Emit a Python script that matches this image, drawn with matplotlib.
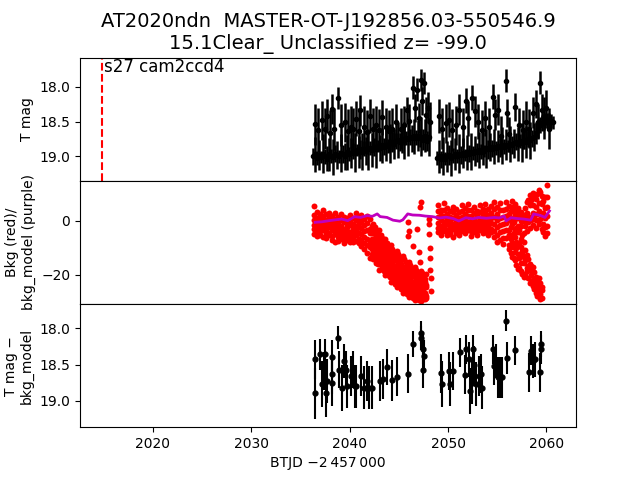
import numpy as np
import matplotlib
matplotlib.use("Agg")
import matplotlib.pyplot as plt

# Light curve: quiescent points (two TESS orbits)
lc_t = [2036.3, 2036.5, 2036.7, 2036.9, 2037.1, 2037.3, 2037.5, 2037.7, 2037.9, 2038.1,
        2038.3, 2038.5, 2038.7, 2038.9, 2039.1, 2039.3, 2039.5, 2039.7, 2039.9, 2040.1,
        2040.3, 2040.5, 2040.7, 2040.9, 2041.1, 2041.3, 2041.5, 2041.7, 2041.9, 2042.1,
        2042.3, 2042.5, 2042.7, 2042.9, 2043.1, 2043.3, 2043.5, 2043.7, 2043.9, 2044.1,
        2044.3, 2044.5, 2044.7, 2044.9, 2045.1, 2045.3, 2045.5, 2045.7, 2045.9, 2046.1,
        2046.3, 2046.5, 2046.7, 2046.9, 2047.1, 2047.3, 2047.5, 2047.7, 2047.9, 2048.1,
        2048.9, 2049.1, 2049.3, 2049.5, 2049.7, 2049.9, 2050.1, 2050.3, 2050.5, 2050.7,
        2050.9, 2051.1, 2051.3, 2051.5, 2051.7, 2051.9, 2052.1, 2052.3, 2052.5, 2052.7,
        2052.9, 2053.1, 2053.3, 2053.5, 2053.7, 2053.9, 2054.1, 2054.3, 2054.5, 2054.7,
        2054.9, 2055.1, 2055.3, 2055.5, 2055.7, 2055.9, 2056.1, 2056.3, 2056.5, 2056.7,
        2056.9, 2057.1, 2057.3, 2057.5, 2057.7, 2057.9, 2058.1, 2058.3, 2058.5, 2058.7,
        2058.9, 2059.1, 2059.3, 2059.5, 2059.7, 2059.9, 2060.1, 2060.3, 2060.5, 2060.7]
lc_mag = [19.00, 18.97, 19.02, 18.98, 19.01, 18.96, 19.00, 19.03, 18.97,
          18.99, 19.01, 18.96, 18.98, 19.00, 18.95, 18.97, 19.00, 18.94, 18.97,
          18.95, 18.92, 18.95, 18.91, 18.94, 18.90, 18.93, 18.89, 18.92, 18.90,
          18.88, 18.91, 18.87, 18.89, 18.85, 18.88, 18.84, 18.86, 18.83, 18.85,
          18.81, 18.79, 18.82, 18.78, 18.76, 18.79, 18.75, 18.77, 18.73, 18.75,
          18.72, 18.74, 18.71, 18.73, 18.70, 18.74, 18.72, 18.76, 18.70, 18.78, 18.72,
          19.02, 19.00, 19.04, 18.99, 19.03, 19.00, 18.98, 19.02, 18.99,
          18.97, 19.00, 18.96, 18.98, 18.95, 18.98, 18.94, 18.96, 18.93, 18.95,
          18.92, 18.94, 18.91, 18.93, 18.89, 18.92, 18.88, 18.90, 18.87, 18.89,
          18.86, 18.88, 18.85, 18.87, 18.84, 18.86, 18.83, 18.85, 18.82, 18.84,
          18.81, 18.79, 18.82, 18.78, 18.80, 18.76, 18.79, 18.75, 18.77, 18.74,
          18.72, 18.66, 18.60, 18.55, 18.52, 18.50, 18.49, 18.48, 18.50, 18.49, 18.51]
lc_err = [0.12, 0.25, 0.10, 0.22, 0.09, 0.28, 0.11, 0.18, 0.24, 0.10,
          0.26, 0.12, 0.20, 0.09, 0.27, 0.13, 0.19, 0.25, 0.10, 0.22,
          0.12, 0.28, 0.09, 0.23, 0.14, 0.26, 0.11, 0.20, 0.29, 0.10,
          0.24, 0.13, 0.27, 0.09, 0.19, 0.25, 0.12, 0.23, 0.10, 0.28,
          0.14, 0.22, 0.11, 0.26, 0.13, 0.20, 0.27, 0.10, 0.24, 0.12,
          0.19, 0.25, 0.11, 0.22, 0.13, 0.28, 0.15, 0.24, 0.14, 0.27,
          0.10, 0.24, 0.12, 0.27, 0.09, 0.22, 0.14, 0.26, 0.11,
          0.23, 0.10, 0.28, 0.13, 0.21, 0.09, 0.25, 0.12, 0.27, 0.10,
          0.22, 0.14, 0.26, 0.11, 0.24, 0.09, 0.28, 0.13, 0.20, 0.12,
          0.25, 0.10, 0.23, 0.14, 0.27, 0.11, 0.22, 0.09, 0.26, 0.13,
          0.21, 0.12, 0.25, 0.10, 0.28, 0.14, 0.23, 0.11, 0.26, 0.12,
          0.20, 0.16, 0.14, 0.12, 0.11, 0.12, 0.10, 0.11, 0.12, 0.10, 0.09]

# Light curve: brighter excursions
fl_t = [2036.5, 2036.8, 2037.2, 2037.5, 2037.7, 2038.0, 2038.2, 2038.4, 2038.8, 2039.1,
        2039.5, 2039.8, 2040.1, 2040.3, 2040.6, 2040.9, 2041.1, 2041.5, 2041.8, 2042.1,
        2042.4, 2042.7, 2043.0, 2043.3, 2043.7, 2044.0, 2044.3, 2044.7, 2045.2, 2045.5,
        2045.8, 2046.0, 2046.4, 2046.6, 2046.8, 2047.0, 2047.2, 2047.4, 2047.6, 2047.8,
        2048.0, 2048.2,
        2049.1, 2049.4, 2049.8, 2050.1, 2050.4, 2050.8, 2051.1, 2051.5, 2051.8, 2052.0,
        2052.4, 2052.7, 2053.0, 2053.4, 2053.8, 2054.2, 2054.6, 2054.8, 2055.1, 2055.4,
        2055.9, 2056.0, 2056.2, 2056.8, 2057.2, 2057.6, 2057.9, 2058.2, 2058.6, 2058.9,
        2059.1, 2059.3, 2059.5, 2059.7, 2060.0, 2060.3]
fl_mag = [18.54, 18.62, 18.48, 18.60, 18.42, 18.66, 18.32, 18.61, 18.16, 18.55,
          18.51, 18.64, 18.58, 18.61, 18.46, 18.63, 18.34, 18.58, 18.65, 18.42,
          18.60, 18.55, 18.62, 18.44, 18.58, 18.63, 18.61, 18.50, 18.60, 18.55,
          18.34, 18.49, 18.01, 18.30, 18.04, 18.45, 17.90, 18.20, 17.94, 18.40,
          18.30, 18.50,
          18.42, 18.60, 18.52, 18.47, 18.62, 18.55, 18.33, 18.58, 18.20, 18.45,
          18.16, 18.35, 18.50, 18.62, 18.45, 18.58, 18.14, 18.40, 18.33, 18.70,
          17.91, 18.37, 18.68, 18.29, 18.55, 18.62, 18.50, 18.60, 18.37, 18.25,
          18.50, 17.94, 18.33, 18.45, 18.30, 18.60]
fl_err = [0.30, 0.32, 0.28, 0.30, 0.25, 0.33, 0.22, 0.30, 0.16, 0.30,
          0.28, 0.32, 0.30, 0.30, 0.25, 0.32, 0.22, 0.30, 0.32, 0.25,
          0.30, 0.28, 0.30, 0.25, 0.28, 0.30, 0.30, 0.26, 0.30, 0.28,
          0.20, 0.25, 0.16, 0.20, 0.16, 0.22, 0.16, 0.20, 0.16, 0.25,
          0.22, 0.28,
          0.25, 0.30, 0.28, 0.25, 0.30, 0.28, 0.22, 0.28, 0.18, 0.25,
          0.18, 0.22, 0.25, 0.28, 0.25, 0.28, 0.18, 0.22, 0.22, 0.28,
          0.16, 0.20, 0.25, 0.20, 0.25, 0.28, 0.30, 0.28, 0.22, 0.20,
          0.25, 0.17, 0.22, 0.30, 0.25, 0.30]

# Background flux (red), one list of values per time stamp
bkg_col_t = [2036.4, 2036.7, 2037.0, 2037.3, 2037.6, 2037.9, 2038.2, 2038.5, 2038.8, 2039.1,
             2039.4, 2039.7, 2040.0, 2040.3, 2040.6, 2040.9, 2041.2, 2041.5, 2041.8, 2042.1,
             2042.4, 2042.7, 2043.0, 2043.3, 2043.6, 2043.9, 2044.2, 2044.5, 2044.8, 2045.1,
             2045.4, 2045.7, 2046.0, 2046.3, 2046.6, 2046.9, 2047.2, 2047.5, 2047.8,
             2049.0, 2049.3, 2049.6, 2049.9, 2050.2, 2050.5, 2050.8, 2051.1, 2051.4, 2051.7,
             2052.0, 2052.3, 2052.6, 2052.9, 2053.2, 2053.5, 2053.8, 2054.1, 2054.4, 2054.7,
             2055.0, 2055.3, 2055.6, 2055.9, 2056.2, 2056.5, 2056.8, 2057.1, 2057.4, 2057.7,
             2058.0, 2058.3, 2058.6, 2058.9, 2059.2, 2059.5, 2059.8, 2060.1,
             2042.25, 2042.55, 2042.85, 2043.15, 2043.45, 2043.75, 2044.05, 2044.35, 2044.65,
             2044.95, 2045.25, 2045.55, 2045.85, 2046.15, 2046.45, 2046.75, 2047.05, 2047.35,
             2047.65,
             2056.35, 2056.65, 2056.95, 2057.25, 2057.55, 2057.85, 2058.15, 2058.45, 2058.75,
             2059.05, 2059.35, 2059.65]
bkg_col_v = [
    [5.5, 2.1, 0.3, -1.6, -3.2, -4.8], [3.2, 1.0, -0.8, -2.7, -4.1, -5.6],
    [2.6, 0.6, -1.2, -2.2, -3.9, -5.1], [3.8, 1.7, -0.2, -1.9, -3.5, -5.9],
    [2.3, 0.1, -1.5, -3.1, -4.4, -6.2], [3.0, 1.2, -0.6, -2.4, -4.7, -5.3],
    [1.8, -0.3, -2.1, -3.6, -5.5, -7.1], [2.9, 0.8, -1.4, -3.0, -4.9, -7.8],
    [1.2, -0.9, -2.6, -4.3, -6.0, -7.4], [2.4, 0.2, -1.8, -3.4, -5.2, -6.6],
    [1.5, -0.6, -2.9, -4.6, -6.4, -8.2], [0.9, -1.3, -2.3, -3.8, -5.7, -7.0],
    [2.2, 0.0, -1.7, -4.0, -5.9, -7.7], [1.0, -1.1, -3.2, -4.8, -6.3, -8.0],
    [2.7, 0.4, -2.0, -3.3, -5.1, -7.3], [1.4, -0.7, -2.5, -4.5, -6.8, -8.4],
    [2.0, -0.2, -2.8, -5.0, -7.2, -9.3], [0.8, -1.6, -3.7, -6.1, -8.3, -10.6],
    [1.6, -0.8, -3.3, -6.6, -9.1, -11.8], [0.6, -2.9, -4.6, -8.3, -9.8, -13.6],
    [-1.1, -3.5, -7.4, -8.9, -12.8, -14.2], [-3.9, -5.2, -8.9, -10.4, -14.3, -15.6],
    [-3.6, -7.8, -9.1, -12.9, -14.1, -18.0], [-6.4, -7.9, -11.8, -13.2, -16.9, -17.9],
    [-6.8, -10.6, -12.0, -15.7, -16.8, -20.1], [-9.2, -10.7, -14.6, -15.8, -19.3, -20.0],
    [-8.9, -13.1, -14.2, -18.0, -18.9, -22.5], [-11.5, -12.8, -16.7, -17.7, -21.2, -22.1],
    [-11.2, -15.0, -16.4, -20.2, -21.1, -24.5], [-13.3, -14.7, -18.7, -19.6, -23.3, -24.4],
    [-13.0, -17.3, -18.5, -22.1, -23.0, -26.8], [-15.2, -16.6, -20.8, -21.8, -25.5, -26.3],
    [-15.1, -19.2, -20.3, -24.1, -24.9, -28.3], [-17.6, -18.7, -22.6, -23.5, -27.2, -27.7],
    [-16.9, -20.9, -22.1, -25.8, -26.5, -29.4], [-19.1, -20.4, -24.2, -25.1, -28.3, -28.8],
    [-18.4, -22.4, -23.4, -27.0, -27.5, -29.5], [-20.5, -21.7, -25.3, -26.2, -28.9, -28.2],
    [-19.8, -23.7, -24.6, -27.9, -28.4],
    [5.6, 3.4, 1.2, -0.9, -2.8, -4.3], [4.1, 2.0, 0.1, -1.8, -3.6, -5.2],
    [6.6, 3.9, 1.7, -0.4, -2.4, -3.9], [4.7, 2.6, 0.6, -1.3, -3.3, -5.4],
    [3.6, 1.5, -0.5, -2.2, -4.0, -4.9], [5.2, 3.1, 0.9, -1.1, -2.9, -6.1],
    [4.3, 2.2, 0.3, -1.6, -3.4, -4.6], [3.2, 1.1, -0.9, -2.6, -4.3, -5.3],
    [5.7, 3.5, 1.4, -0.6, -2.5, -3.8], [4.6, 2.4, 0.4, -1.4, -3.1, -4.7],
    [6.1, 3.8, 1.6, -0.3, -2.2, -3.3], [4.0, 1.9, -0.2, -2.1, -3.9, -5.7],
    [5.1, 2.9, 0.8, -1.2, -2.7, -4.2], [3.7, 1.6, -0.4, -1.9, -3.7, -5.1],
    [5.6, 3.3, 1.1, -0.8, -2.6, -3.6], [4.4, 2.3, 0.2, -1.5, -3.2, -4.6],
    [6.2, 3.7, 1.3, -0.7, -2.4, -4.0], [4.2, 2.1, 0.0, -1.8, -3.5, -5.4],
    [5.3, 3.0, 0.9, -1.0, -2.9, -4.1], [7.0, 4.2, 1.5, -1.3, -3.8, -6.0],
    [5.1, 2.6, 0.2, -2.4, -5.1, -8.0], [6.5, 3.8, 1.1, -1.7, -4.3, -7.0],
    [4.0, 1.4, -1.2, -3.8, -6.2, -8.5], [7.0, 4.3, 1.6, -1.0, -3.6, -6.4],
    [5.5, 2.3, 0.4, -3.4, -5.1, -8.9, -10.4], [7.4, 4.9, 1.0, -1.1, -5.3, -8.2, -13.2],
    [6.0, 2.6, 0.8, -3.6, -6.1, -11.4, -14.6], [4.6, 2.3, -1.9, -4.3, -9.2, -12.2, -17.8],
    [3.2, -0.1, -2.0, -6.9, -9.7, -15.5, -18.6], [2.0, -0.2, -4.7, -7.8, -13.3, -15.7, -20.6],
    [6.8, 2.8, 1.2, -3.9, -12.8, -17.5, -18.7], [9.5, 5.8, 1.2, -2.6, -15.9, -18.3, -23.0],
    [10.2, 5.7, 3.0, -1.7, -17.1, -21.9, -23.9], [8.1, 5.2, 0.3, -2.8, -20.8, -22.8, -26.7],
    [11.2, 6.4, 3.7, -1.2, -21.3, -25.9, -26.9], [9.2, 6.0, 1.3, -3.1, -24.5, -25.7, -28.4],
    [8.6, 4.8, 1.0, -2.3, -5.8], [13.0, 8.6, 5.0, 1.6, -1.9, -4.5],
    [-1.8, -4.4, -6.9, -10.6, -12.1], [-2.4, -6.3, -7.7, -11.6, -13.3],
    [-4.9, -6.4, -10.8, -11.5, -15.9], [-5.2, -9.6, -10.4, -14.8, -15.6],
    [-7.9, -9.2, -13.6, -14.6, -18.4], [-8.1, -12.3, -13.2, -17.3, -18.5],
    [-10.5, -11.7, -16.2, -16.9, -20.9], [-10.3, -14.8, -15.5, -19.6, -20.5],
    [-12.9, -14.0, -18.5, -19.0, -23.2], [-12.4, -16.7, -17.6, -21.7, -22.6],
    [-14.6, -15.8, -20.3, -20.9, -25.3], [-14.3, -18.8, -19.6, -23.6, -24.6],
    [-16.6, -17.9, -22.4, -23.0, -27.1], [-16.3, -20.7, -21.3, -25.6, -26.1],
    [-18.3, -19.6, -24.3, -24.8, -28.6], [-18.0, -22.2, -22.9, -27.1, -27.9],
    [-20.2, -21.3, -25.6, -26.4, -29.2], [-19.3, -23.6, -24.2, -28.0, -28.6],
    [-21.4, -22.6, -26.5, -27.1, -29.0],
    [3.5, -2.3, -6.9, -9.7, -11.8], [5.1, -0.3, -4.7, -9.6, -13.9],
    [3.4, -2.6, -7.9, -10.2, -16.4], [1.1, -3.6, -8.1, -13.9, -17.5],
    [1.4, -5.3, -11.3, -12.4, -19.7], [4.5, -1.9, -10.8, -14.6, -19.8],
    [7.8, -0.6, -14.2, -16.8, -21.1], [7.6, 0.2, -16.6, -20.1, -22.6],
    [9.0, 1.8, -19.0, -21.4, -25.3], [9.7, 2.3, -22.6, -24.3, -27.7],
    [10.4, 0.6, -23.1, -27.0, -28.9], [7.1, 2.9, -1.4, -4.0]]
bkg_x_t = [2045.9, 2046.0, 2045.9, 2046.4, 2046.8, 2047.0, 2047.1, 2047.2, 2047.1,
           2048.1, 2048.1, 2048.1, 2048.2, 2048.2, 2048.2, 2048.3, 2048.3]
bkg_x_v = [-0.6, -3.7, -5.6, -9.3, -3.1, -11.7, -15.4, 6.8, 4.9,
           0.5, -1.2, -4.9, -9.9, -13.6, -18.0, -21.0, -25.9]

# Background model (purple)
bm_t = [2036.5, 2037.2, 2037.9, 2038.5, 2039.2, 2039.8, 2040.5, 2041.1, 2041.8, 2042.3,
        2042.8, 2043.1, 2043.8, 2044.4, 2045.1, 2045.4, 2045.9, 2046.4, 2047.1, 2047.7,
        2048.4, 2049.15, 2049.8, 2050.5, 2051.1, 2051.8, 2052.5, 2053.1, 2053.9, 2054.7,
        2055.2, 2055.7, 2055.9, 2056.4, 2057.0, 2057.7, 2058.4, 2058.7, 2059.4, 2059.85, 2060.3]
bm_v = [-0.6, -0.4, 0.0, 0.3, 0.6, 0.0, 1.5, 1.2, 1.9, 1.6,
        2.5, 1.5, 1.2, 0.2, -0.2, 0.3, 2.5, 2.1, 2.0, 1.7,
        1.5, 1.0, 1.3, 0.8, -0.1, 1.1, 0.7, 1.2, 0.9, 1.2,
        1.0, 1.7, -0.1, 1.1, 0.8, 0.6, 0.2, 2.5, 1.9, 1.2, 3.6]

# Background-subtracted magnitudes
sub_t = [2036.5, 2036.5, 2037.0, 2037.2, 2037.4, 2037.5, 2037.6, 2037.7,
         2038.2, 2038.2, 2038.25, 2038.8, 2038.9, 2039.2, 2039.4, 2039.6, 2039.7,
         2040.1, 2040.3, 2040.5, 2040.65, 2041.2, 2041.5, 2041.8, 2042.0, 2042.3,
         2043.1, 2043.4, 2043.8, 2044.3, 2044.8, 2045.9, 2046.4,
         2047.2, 2047.3, 2047.5, 2047.5, 2047.6,
         2049.3, 2049.4, 2050.1, 2050.2, 2050.5,
         2051.2, 2051.7, 2051.85, 2052.1, 2052.2, 2052.4, 2052.5, 2052.6, 2052.8,
         2053.1, 2053.3, 2053.4,
         2054.6, 2054.7, 2054.9, 2055.1, 2055.3, 2055.5,
         2055.9, 2056.0, 2056.8,
         2058.2, 2058.4, 2058.6, 2058.8,
         2059.3, 2059.4, 2059.45]
sub_mag = [18.43, 18.90, 18.36, 18.77, 18.59, 18.36, 18.89, 18.73,
           18.40, 18.63, 18.75, 18.13, 18.57, 18.82, 18.45, 18.57, 18.80,
           18.66, 18.57, 18.80, 18.80, 18.66, 18.82, 18.73, 18.82, 18.82,
           18.73, 18.70, 18.54, 18.72, 18.67, 18.63, 18.21,
           18.06, 18.13, 18.29, 18.57, 18.38,
           18.62, 18.77, 18.59, 18.77, 18.59,
           18.33, 18.64, 18.29, 18.43, 18.87, 18.75, 18.29, 18.50, 18.77,
           18.66, 18.63, 18.82,
           18.29, 18.52, 18.45, 18.68, 18.68, 18.68,
           17.89, 18.41, 18.30,
           18.61, 18.31, 18.45, 18.43,
           18.61, 18.29, 18.21]
sub_err = [0.27, 0.35, 0.22, 0.32, 0.26, 0.22, 0.34, 0.30,
           0.24, 0.28, 0.32, 0.16, 0.26, 0.32, 0.24, 0.26, 0.30,
           0.28, 0.26, 0.30, 0.30, 0.28, 0.30, 0.28, 0.30, 0.30,
           0.28, 0.28, 0.25, 0.28, 0.27, 0.27, 0.18,
           0.16, 0.17, 0.20, 0.26, 0.22,
           0.27, 0.32, 0.26, 0.30, 0.26,
           0.20, 0.27, 0.20, 0.24, 0.32, 0.30, 0.20, 0.26, 0.30,
           0.28, 0.27, 0.30,
           0.20, 0.26, 0.24, 0.28, 0.28, 0.28,
           0.14, 0.22, 0.20,
           0.27, 0.20, 0.24, 0.24,
           0.27, 0.20, 0.18]

SECTOR_T = 2014.85
SECTOR_LABEL = "s27 cam2ccd4"
TITLE = "AT2020ndn  MASTER-OT-J192856.03-550546.9\n15.1Clear_ Unclassified z= -99.0"

fig, axes = plt.subplots(3, 1, sharex=True, figsize=(6.4, 4.8), dpi=100)
fig.subplots_adjust(hspace=0)
ax1, ax2, ax3 = axes

# top: light curve
ax1.errorbar(lc_t, lc_mag, yerr=lc_err, fmt='ko', ms=3, elinewidth=1.8)
ax1.errorbar(fl_t, fl_mag, yerr=fl_err, fmt='ko', ms=3, elinewidth=1.8)
ax1.axvline(SECTOR_T, color='r', ls='--', lw=1.5)
ax1.text(SECTOR_T + 0.15, 1.0, SECTOR_LABEL, transform=ax1.get_xaxis_transform(),
         va='top', ha='left', fontsize=12)
ax1.set_ylim(19.35, 17.58)
ax1.set_yticks([18.0, 18.5, 19.0])
ax1.set_ylabel('T mag')
ax1.set_title(TITLE, fontsize=14)

# middle: background
bkg_t = [t for t, vals in zip(bkg_col_t, bkg_col_v) for _ in vals] + bkg_x_t
bkg_v = [v for vals in bkg_col_v for v in vals] + bkg_x_v
ax2.plot(bkg_t, bkg_v, 'o', color='r', ms=4.3, mew=0)
ax2.plot(bm_t, bm_v, '-', color='m', lw=2)
ax2.set_ylim(-30.7, 14.7)
ax2.set_yticks([-20, 0])
ax2.set_ylabel('Bkg (red)/\nbkg_model (purple)')

# bottom: background-subtracted
ax3.errorbar(sub_t, sub_mag, yerr=sub_err, fmt='ko', ms=3.5, elinewidth=1.5)
ax3.set_ylim(19.37, 17.66)
ax3.set_yticks([18.0, 18.5, 19.0])
ax3.set_ylabel('T mag \u2212\nbkg_model')
ax3.set_xlim(2012.6, 2063.0)
ax3.set_xticks([2020, 2030, 2040, 2050, 2060])
ax3.set_xlabel('BTJD \u22122\u2009457\u2009000')

fig.savefig('out.png', dpi=100)
